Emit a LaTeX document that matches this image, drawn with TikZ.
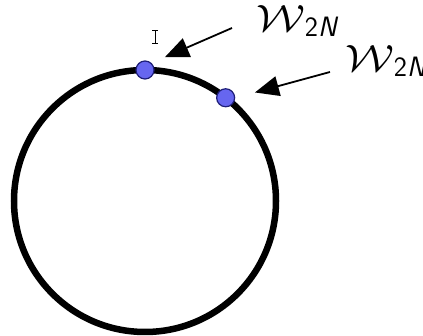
\RequirePackage{fix-cm}
\documentclass[tikz,border=0pt]{standalone}
\usepackage{graphicx}
\usetikzlibrary{calc}
\usetikzlibrary{arrows.meta}
\usepackage{amsmath}
\usepackage{amssymb}

\definecolor{dotblue}{RGB}{102,102,240}
\definecolor{dotrim}{RGB}{30,30,120}

\newcommand{\wsym}{\scalebox{1.2}[1]{$\mathcal{W}$}\raisebox{-5pt}{\fontsize{28}{30}\selectfont\sffamily 2\textsl{N}}}

\begin{document}
\begin{tikzpicture}[x=1pt, y=1pt,
	dot/.style={circle, fill=dotblue, draw=dotrim, line width=1.2pt, minimum size=18pt, inner sep=0pt},
	pointer/.style={-{Triangle[length=24pt, width=20pt]}, line width=1.8pt, shorten >=2pt},
	wlabel/.style={anchor=base west, inner sep=0pt, font=\fontsize{38}{42}\selectfont}]
	\useasboundingbox (0, 0) rectangle (423, 336);
	\def\r{131}
	\coordinate (O) at (145, 135) {};

	\draw [line width=6.5pt] (O) circle (\r);

	\node[dot] (W1) at ($(O) + (90:\r)$) {};
	\node[dot] (W2) at ($(O) + (52:\r)$) {};

	\node[wlabel] (L1) at (256, 304) {\wsym};
	\node[wlabel] (L2) at (345, 264) {\wsym};

	\coordinate (A1) at (232, 308);
	\coordinate (A2) at (330, 264);
	\coordinate (T1) at (163, 278);
	\coordinate (T2) at (253, 243);

	\draw[pointer] (A1) -- (T1);
	\draw[pointer] (A2) -- (T2);

	% text cursor
	\draw[line width=1pt] (155, 292) -- (155, 305)
		(152, 292) -- (158, 292)
		(152, 305) -- (158, 305);

\end{tikzpicture}
\end{document}
